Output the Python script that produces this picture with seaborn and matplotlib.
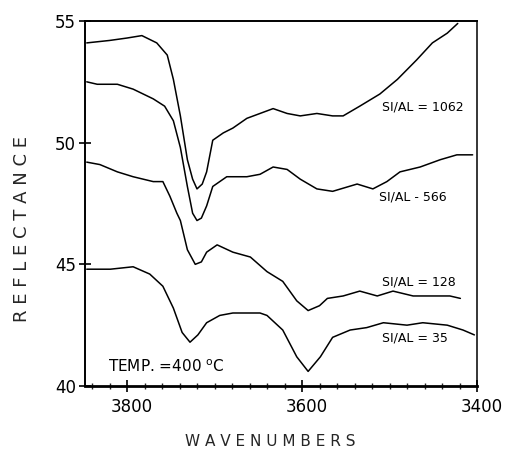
import matplotlib
matplotlib.use("Agg")
import matplotlib.pyplot as plt
import matplotlib.transforms as mtransforms
import seaborn as sns
import pandas as pd
from matplotlib.ticker import MultipleLocator

# ---- data ----
x_1062 = [3846, 3820, 3800, 3783, 3766, 3754, 3747, 3739, 3731, 3725, 3720, 3714, 3709, 3702,
          3690, 3679, 3663, 3648, 3633, 3617, 3602, 3583, 3565, 3553, 3534, 3511, 3491, 3469,
          3451, 3434, 3422]
y_1062 = [54.1, 54.2, 54.3, 54.4, 54.1, 53.6, 52.6, 51.1, 49.3, 48.5, 48.1, 48.3, 48.8, 50.1,
          50.4, 50.6, 51.0, 51.2, 51.4, 51.2, 51.1, 51.2, 51.1, 51.1, 51.5, 52.0, 52.6, 53.4,
          54.1, 54.5, 54.9]

x_566 = [3846, 3834, 3811, 3793, 3770, 3757, 3747, 3739, 3731, 3725, 3720, 3715, 3709, 3702,
         3686, 3663, 3648, 3633, 3617, 3602, 3583, 3565, 3537, 3519, 3503, 3488, 3465, 3442,
         3423, 3405]
y_566 = [52.5, 52.4, 52.4, 52.2, 51.8, 51.5, 50.9, 49.8, 48.2, 47.1, 46.8, 46.9, 47.4, 48.2,
         48.6, 48.6, 48.7, 49.0, 48.9, 48.5, 48.1, 48.0, 48.3, 48.1, 48.4, 48.8, 49.0, 49.3,
         49.5, 49.5]

x_128 = [3846, 3831, 3811, 3793, 3770, 3759, 3751, 3743, 3739, 3731, 3722, 3715, 3709, 3697,
         3679, 3659, 3640, 3622, 3606, 3593, 3580, 3571, 3553, 3534, 3514, 3496, 3473, 3450,
         3431, 3419]
y_128 = [49.2, 49.1, 48.8, 48.6, 48.4, 48.4, 47.8, 47.1, 46.8, 45.6, 45.0, 45.1, 45.5, 45.8,
         45.5, 45.3, 44.7, 44.3, 43.5, 43.1, 43.3, 43.6, 43.7, 43.9, 43.7, 43.9, 43.7, 43.7,
         43.7, 43.6]

x_35 = [3846, 3819, 3793, 3774, 3759, 3747, 3737, 3728, 3719, 3709, 3694, 3679, 3663, 3648,
        3640, 3622, 3606, 3593, 3579, 3565, 3545, 3526, 3507, 3480, 3462, 3434, 3416, 3403]
y_35 = [44.8, 44.8, 44.9, 44.6, 44.1, 43.2, 42.2, 41.8, 42.1, 42.6, 42.9, 43.0, 43.0, 43.0,
        42.9, 42.3, 41.2, 40.6, 41.2, 42.0, 42.3, 42.4, 42.6, 42.5, 42.6, 42.5, 42.3, 42.1]

series_labels = ["SI/AL = 1062", "SI/AL - 566", "SI/AL = 128", "SI/AL = 35"]
label_x = [3508, 3512, 3509, 3509]
label_y = [51.45, 47.75, 44.26, 41.97]

x_ticks = [3800, 3600, 3400]
y_ticks = [40, 45, 50, 55]
temp_text = "TEMP. =400 $^{\\rm o}$C"

# ---- plot ----
sns.set_style("ticks")
plt.rcParams["font.family"] = ["DejaVu Sans"]

frames = []
for name, xs, ys in [("1062", x_1062, y_1062), ("566", x_566, y_566),
                     ("128", x_128, y_128), ("35", x_35, y_35)]:
    frames.append(pd.DataFrame({"wn": xs, "refl": ys, "sample": name}))
df = pd.concat(frames, ignore_index=True)

fig = plt.figure(figsize=(5.07, 4.51), dpi=100)
ax = fig.add_axes([85 / 507, 1 - 386 / 451, (477 - 85) / 507, (386 - 21) / 451])

sns.lineplot(data=df, x="wn", y="refl", units="sample", estimator=None, sort=False,
             color="black", linewidth=1.1, ax=ax, legend=False)

ax.set_xlim(3848, 3400)
ax.set_ylim(40, 55)
ax.set_xticks(x_ticks)
ax.set_yticks(y_ticks)
ax.xaxis.set_minor_locator(MultipleLocator(20))
ax.tick_params(axis="x", which="major", direction="inout", length=9, width=1.2,
               labelsize=12, pad=4, colors="black")
ax.tick_params(axis="x", which="minor", direction="inout", length=5, width=1.0)
ax.tick_params(axis="y", which="major", direction="inout", length=9, width=1.2,
               labelsize=12, pad=2, colors="black")
ax.set_xlabel("")
ax.set_ylabel("")
for side, lw in [("left", 1.4), ("bottom", 2.0), ("top", 1.4), ("right", 1.1)]:
    ax.spines[side].set_visible(True)
    ax.spines[side].set_linewidth(lw)
    ax.spines[side].set_color("black")

# x tick labels sit a little to the right of their ticks in the reference
shift = mtransforms.ScaledTranslation(5 / 100, 0, fig.dpi_scale_trans)
for lbl in ax.get_xticklabels():
    lbl.set_transform(lbl.get_transform() + shift)

for t, lx, ly in zip(series_labels, label_x, label_y):
    ax.text(lx, ly, t, fontsize=9, va="center", ha="left", color="black")

ax.text(3822, 40.78, temp_text, fontsize=11, va="center", ha="left", color="black")

fig.text(270 / 507, 1 - 442 / 451, " ".join("WAVENUMBERS"), fontsize=11,
         ha="center", va="center")
fig.text(22 / 507, 1 - 229 / 451, " ".join("REFLECTANCE"), fontsize=13,
         ha="center", va="center", rotation=90)

fig.savefig("out.png", dpi=100)
